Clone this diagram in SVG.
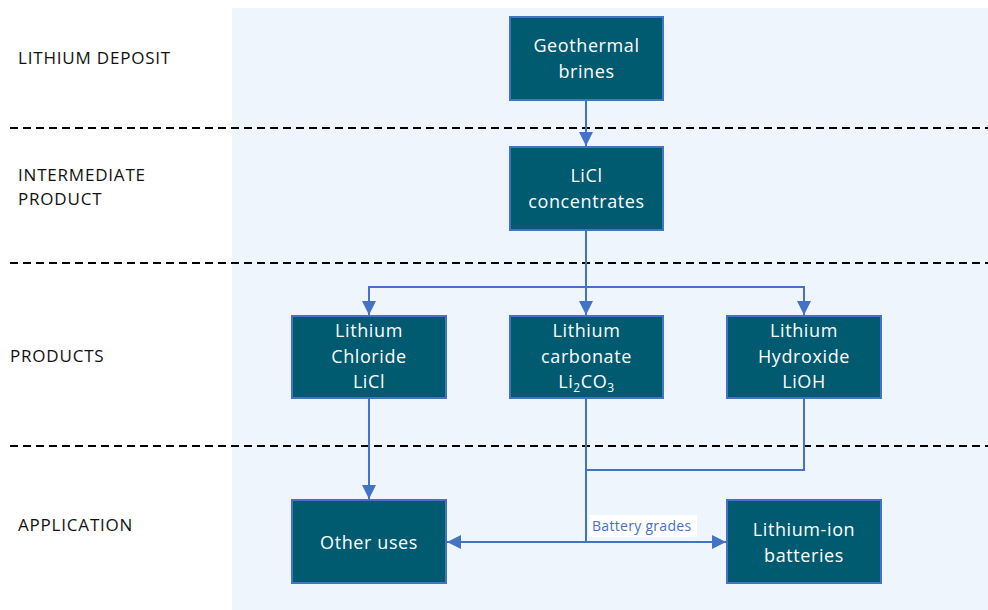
<svg xmlns="http://www.w3.org/2000/svg" width="988" height="610" viewBox="0 0 988 610">
<defs>
<marker id="ah2" viewBox="0 0 10 10" refX="10" refY="5" markerWidth="14" markerHeight="14" markerUnits="userSpaceOnUse" orient="auto"><path d="M0,0 L10,5 L0,10 z" fill="#4472c4"/></marker>
<style>
.box{fill:#005a70;stroke:#4472c4;stroke-width:2}
.bt{font-family:"Open Sans","Liberation Sans",sans-serif;font-size:18px;letter-spacing:0.6px;fill:#ffffff;text-anchor:middle}
.lbl{font-family:"Open Sans","Liberation Sans",sans-serif;font-size:17px;letter-spacing:0.8px;fill:#111111}
.dash{stroke:#000;stroke-width:2;stroke-dasharray:8,5;fill:none}
.con{stroke:#4472c4;stroke-width:2;fill:none}
.el{font-family:"Open Sans","Liberation Sans",sans-serif;font-size:14px;letter-spacing:0.3px;fill:#4472c4}
</style>
</defs>
<rect x="232" y="8" width="756" height="602" fill="#eef5fd"/>
<g id="dividers">
<line class="dash" x1="10" y1="128" x2="988" y2="128"/>
<line class="dash" x1="10" y1="263" x2="988" y2="263"/>
<line class="dash" x1="10" y1="446" x2="988" y2="446"/>
</g>
<g id="row-labels">
<text class="lbl" x="18" y="64">LITHIUM DEPOSIT</text>
<text class="lbl" x="18" y="181">INTERMEDIATE</text>
<text class="lbl" x="18" y="205">PRODUCT</text>
<text class="lbl" x="10" y="362">PRODUCTS</text>
<text class="lbl" x="18" y="531">APPLICATION</text>
</g>
<g id="connectors">
<line class="con" x1="586" y1="100" x2="586" y2="146" marker-end="url(#ah2)"/>
<polyline class="con" points="586,230 586,287"/>
<polyline class="con" points="369,287 804,287"/>
<polyline class="con" points="369,286 369,315" marker-end="url(#ah2)"/>
<line class="con" x1="586" y1="287" x2="586" y2="315" marker-end="url(#ah2)"/>
<polyline class="con" points="804,286 804,315" marker-end="url(#ah2)"/>
<line class="con" x1="369" y1="398" x2="369" y2="499" marker-end="url(#ah2)"/>
<polyline class="con" points="804,398 804,470 586,470"/>
<line class="con" x1="586" y1="398" x2="586" y2="542"/>
<line class="con" x1="586" y1="542" x2="447" y2="542" marker-end="url(#ah2)"/>
<line class="con" x1="586" y1="542" x2="726" y2="542" marker-end="url(#ah2)"/>
<rect x="589" y="515" width="108" height="22" fill="#ffffff"/>
<text class="el" x="592" y="531">Battery grades</text>
</g>
<g id="geothermal">
<rect class="box" x="510" y="17" width="153" height="83"/>
<text class="bt" x="586.5" y="52">Geothermal</text>
<text class="bt" x="586.5" y="78">brines</text>
</g>
<g id="licl-concentrates">
<rect class="box" x="510" y="147" width="153" height="83"/>
<text class="bt" x="586.5" y="182">LiCl</text>
<text class="bt" x="586.5" y="208">concentrates</text>
</g>
<g id="lithium-chloride">
<rect class="box" x="292" y="316" width="154" height="82"/>
<text class="bt" x="369" y="337">Lithium</text>
<text class="bt" x="369" y="363">Chloride</text>
<text class="bt" x="369" y="388">LiCl</text>
</g>
<g id="lithium-carbonate">
<rect class="box" x="510" y="316" width="153" height="82"/>
<text class="bt" x="586.5" y="337">Lithium</text>
<text class="bt" x="586.5" y="363">carbonate</text>
<text class="bt" x="586.5" y="388">Li<tspan font-size="12" dy="4">2</tspan><tspan dy="-4">CO</tspan><tspan font-size="12" dy="4">3</tspan></text>
</g>
<g id="lithium-hydroxide">
<rect class="box" x="727" y="316" width="154" height="82"/>
<text class="bt" x="804" y="337">Lithium</text>
<text class="bt" x="804" y="363">Hydroxide</text>
<text class="bt" x="804" y="388">LiOH</text>
</g>
<g id="other-uses">
<rect class="box" x="292" y="500" width="154" height="83"/>
<text class="bt" x="369" y="549">Other uses</text>
</g>
<g id="lithium-ion">
<rect class="box" x="727" y="500" width="154" height="83"/>
<text class="bt" x="804" y="536">Lithium-ion</text>
<text class="bt" x="804" y="562">batteries</text>
</g>
</svg>
